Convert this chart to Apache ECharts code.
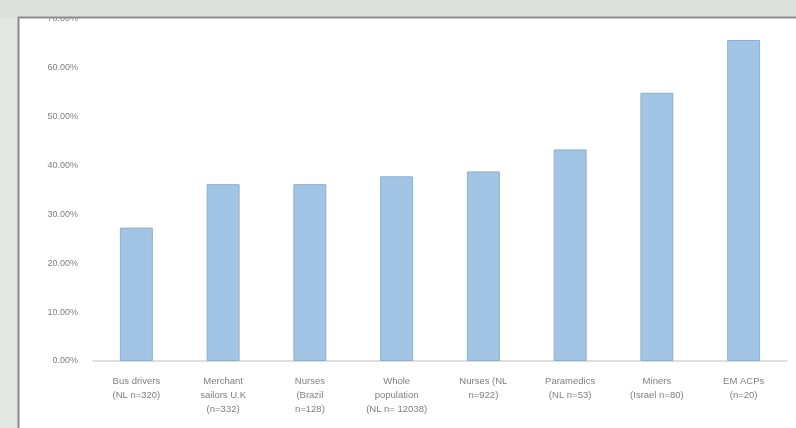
<!DOCTYPE html>
<html>
<head>
<meta charset="utf-8">
<script src="https://cdn.jsdelivr.net/npm/echarts@6/dist/echarts.min.js"></script>
<style>
html,body{margin:0;padding:0;background:#e3e6e3;}
#c{width:796px;height:428px;filter:blur(0.5px);}
</style>
</head>
<body>
<div id="c"></div>
<script>
const categories = [
  "Bus drivers\n(NL n=320)",
  "Merchant\nsailors U.K\n(n=332)",
  "Nurses\n(Brazil\nn=128)",
  "Whole\npopulation\n(NL n= 12038)",
  "Nurses (NL\nn=922)",
  "Paramedics\n(NL n=53)",
  "Miners\n(Israel n=80)",
  "EM ACPs\n(n=20)"
];
const values = [0.273, 0.362, 0.362, 0.378, 0.388, 0.433, 0.549, 0.657];
const yTicks = [0, 0.1, 0.2, 0.3, 0.4, 0.5, 0.6, 0.7];

const chart = echarts.init(document.getElementById('c'), null, {renderer: 'canvas'});
chart.setOption({
  backgroundColor: '#e3e6e3',
  animation: false,
  graphic: [
    {type: 'rect', z: -10, shape: {x: 19, y: 18, width: 780, height: 420}, style: {fill: '#ffffff'}},
    {type: 'rect', z: 100, shape: {x: 0, y: 0, width: 796, height: 17}, style: {fill: '#dde1de'}},
    {type: 'line', z: 101, shape: {x1: 18, y1: 17.5, x2: 796, y2: 17.5}, style: {stroke: '#8a8d8b', lineWidth: 2}},
    {type: 'line', z: 101, shape: {x1: 18.5, y1: 17, x2: 18.5, y2: 428}, style: {stroke: '#8a8d8b', lineWidth: 2}},
    {type: 'rect', z: 100, shape: {x: 0, y: 17, width: 17.5, height: 411}, style: {fill: '#e3e6e3'}}
  ],
  grid: {left: 93, right: 9, top: 19, bottom: 67, containLabel: false},
  xAxis: {
    type: 'category',
    data: categories,
    axisLine: {show: true, lineStyle: {color: '#d4d4d4', width: 1.5}},
    axisTick: {show: false},
    axisLabel: {
      interval: 0, color: '#7f7f7f', fontSize: 9.5, lineHeight: 14,
      margin: 13, fontFamily: 'Liberation Sans, Arial, sans-serif'
    }
  },
  yAxis: {
    type: 'value',
    min: 0, max: 0.7, interval: 0.1,
    axisLine: {show: false},
    axisTick: {show: false},
    splitLine: {show: false},
    axisLabel: {
      color: '#7f7f7f', fontSize: 9, margin: 15,
      fontFamily: 'Liberation Sans, Arial, sans-serif',
      formatter: v => (v * 100).toFixed(2) + '%'
    }
  },
  series: [{
    type: 'bar',
    data: values,
    barWidth: '38%',
    itemStyle: {color: '#a2c5e5', borderColor: '#8cafd2', borderWidth: 1}
  }]
});
</script>
</body>
</html>
